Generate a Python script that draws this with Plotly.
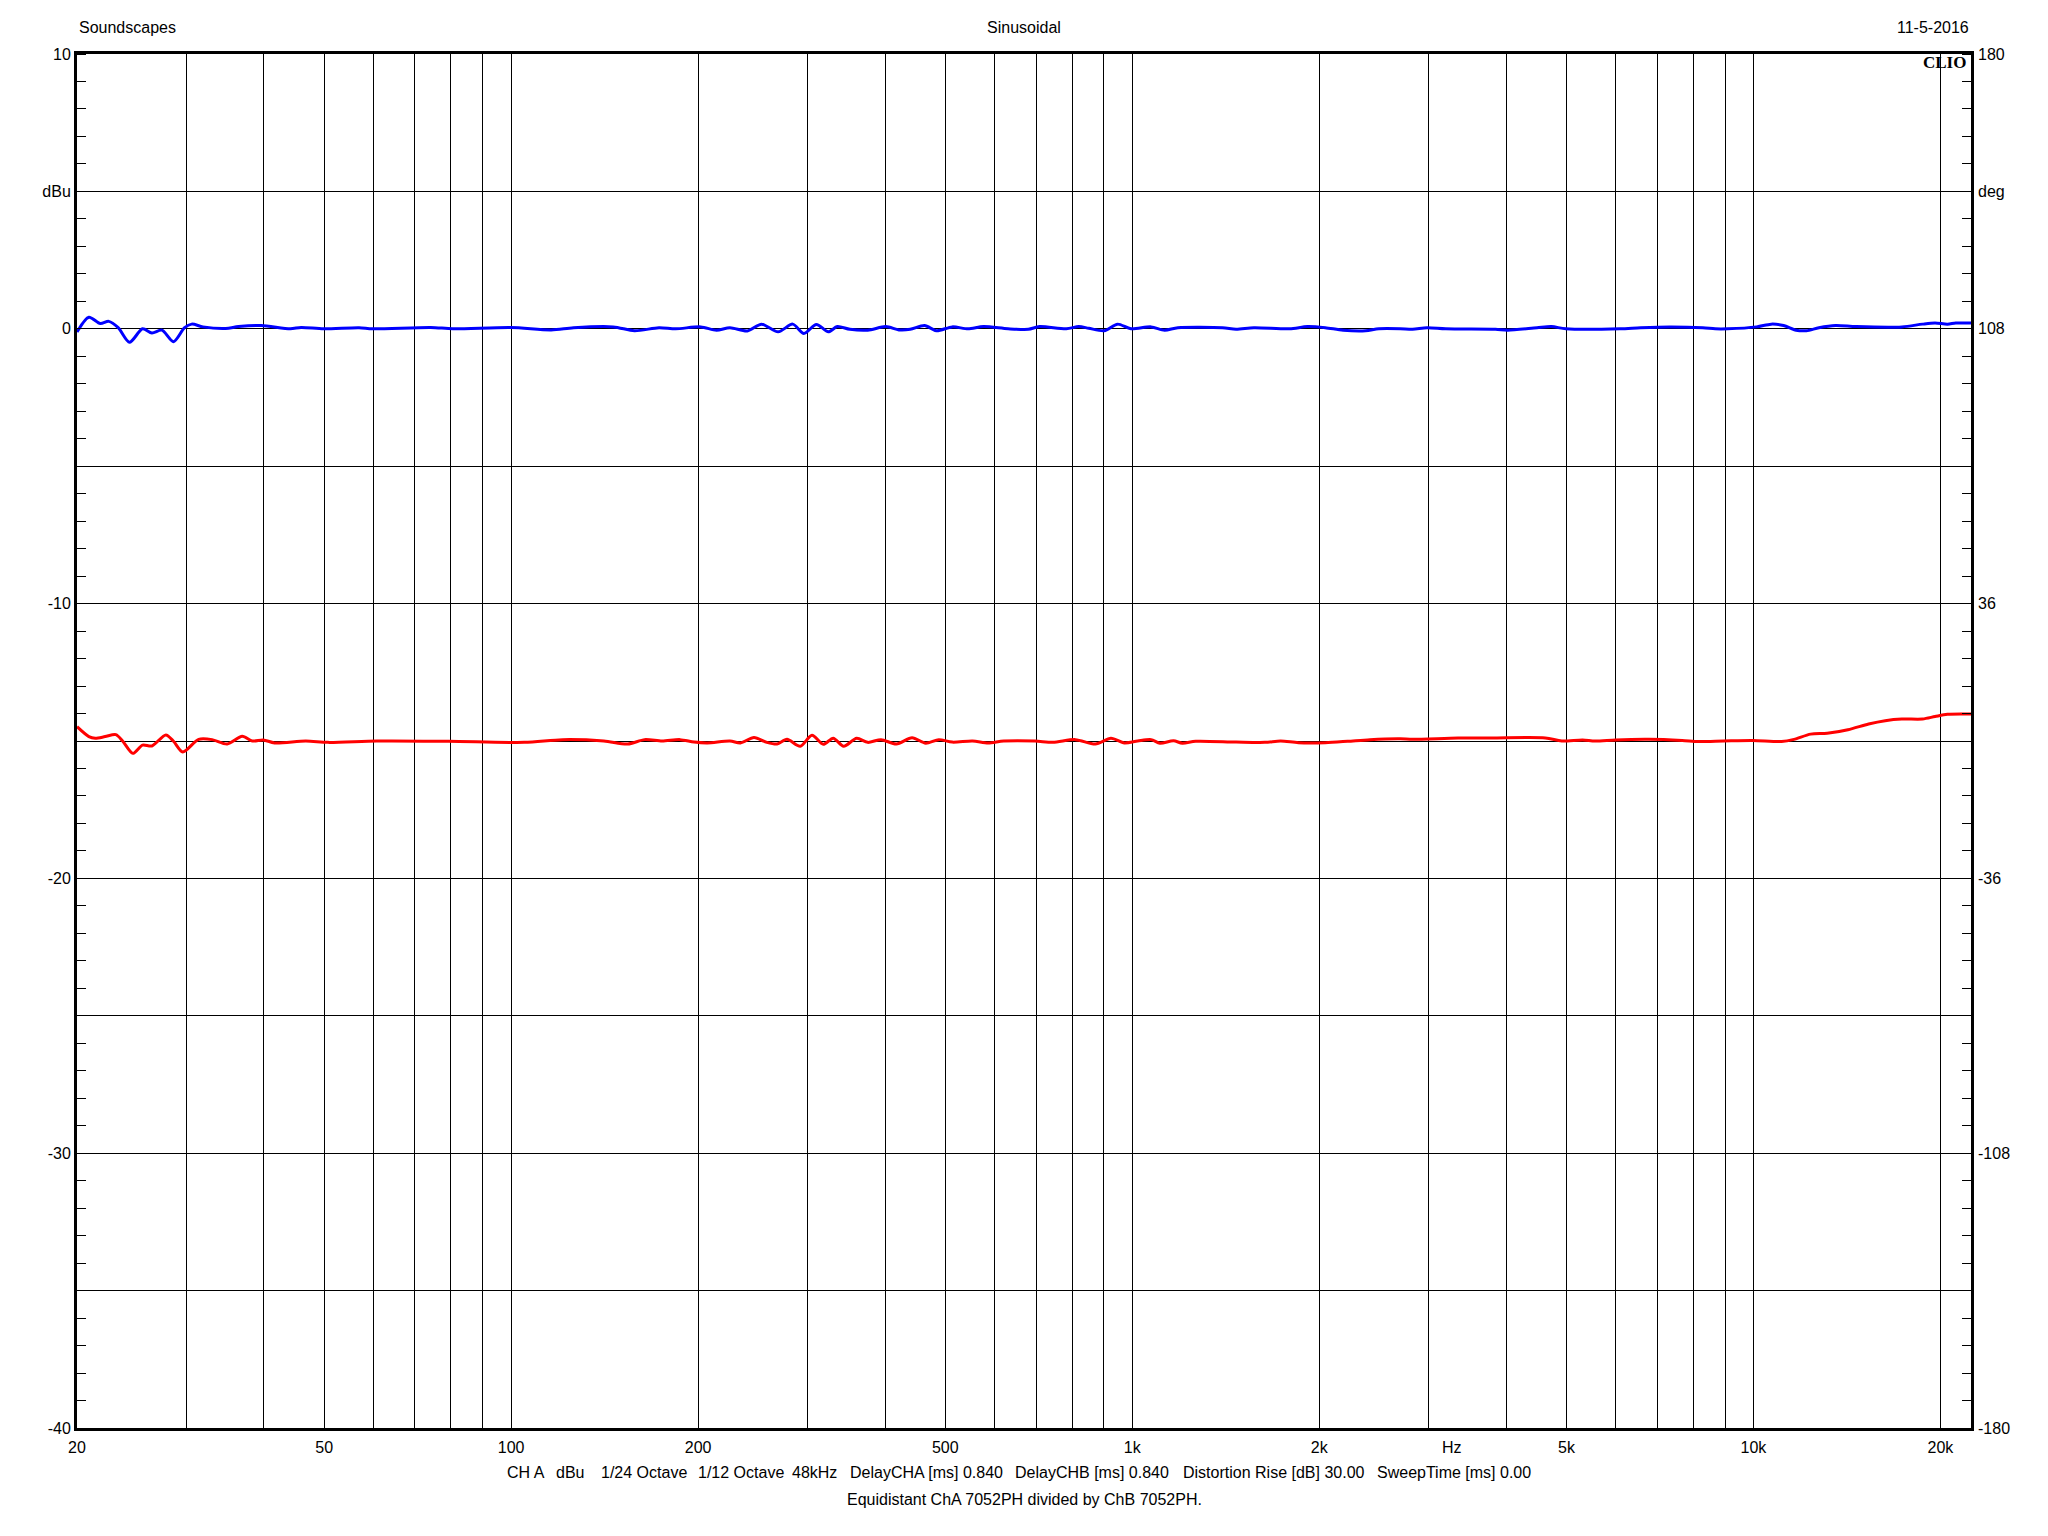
import math
import plotly.graph_objects as go

# ---------------- data ----------------
blue_freq = [20, 20.9, 21.8, 22.5, 23.3, 24.3, 25.5, 26.4, 27.4, 28.6, 29.8, 30.6, 31.9, 34.7, 36.4, 39.6,
             44.1, 45.9, 49.9, 56.9, 59.8, 74.2, 80.6, 99.9, 116, 126, 146, 158, 173, 184, 202, 214, 225,
             240, 253, 269, 284, 296, 310, 324, 335, 351, 375, 401, 421, 439, 463, 484, 513, 544, 576, 631,
             680, 709, 783, 820, 851, 901, 947, 995, 1072, 1127, 1184, 1397, 1469, 1569, 1791, 1914, 2045,
             2185, 2374, 2494, 2701, 2826, 2982, 3196, 3842, 4024, 4482, 4730, 4991, 6096, 6580, 7328, 8288,
             8679, 9090, 10118, 10680, 11183, 11714, 12170, 12747, 13556, 14638, 17336, 18716, 19604, 20526,
             21169, 22400]
blue_dbu = [-0.12, 0.42, 0.19, 0.27, 0.04, -0.49, 0.0, -0.15, -0.05, -0.47, 0.04, 0.17, 0.07, 0.01, 0.08,
            0.12, 0.0, 0.05, 0.0, 0.04, 0.0, 0.05, 0.0, 0.05, -0.04, 0.04, 0.07, -0.07, 0.04, 0.0, 0.07, -0.05,
            0.04, -0.08, 0.17, -0.11, 0.17, -0.17, 0.16, -0.11, 0.08, -0.02, -0.05, 0.08, -0.04, -0.02, 0.12,
            -0.07, 0.07, 0.0, 0.08, 0.0, -0.02, 0.08, 0.0, 0.08, 0.02, -0.07, 0.17, 0.0, 0.07, -0.05, 0.04,
            0.04, -0.02, 0.04, 0.0, 0.08, 0.04, -0.05, -0.07, 0.0, 0.0, -0.02, 0.04, 0.0, -0.02, -0.05, 0.04,
            0.08, 0.0, 0.0, 0.04, 0.07, 0.04, 0.0, 0.0, 0.07, 0.17, 0.12, -0.05, -0.07, 0.04, 0.12, 0.08, 0.07,
            0.17, 0.21, 0.17, 0.21, 0.21]

red_freq = [20, 20.9, 21.4, 22.2, 23.1, 23.7, 24.6, 25.5, 26.4, 27.8, 28.6, 29.6, 31.4, 33.0, 34.9, 36.9,
            38.3, 39.9, 41.6, 46.7, 50.7, 60.8, 79.3, 105, 121, 141, 154, 164, 175, 187, 197, 207, 225, 234,
            246, 258, 268, 278, 292, 305, 318, 330, 343, 360, 375, 394, 417, 442, 465, 488, 513, 553, 586, 621,
            697, 745, 810, 872, 924, 971, 1020, 1072, 1108, 1165, 1204, 1265, 1469, 1635, 1733, 1851, 2045,
            2221, 2413, 2701, 2826, 3346, 3784, 4623, 4914, 5308, 5558, 6002, 6788, 7676, 8162, 8950, 9970,
            11100, 11624, 12362, 13146, 14194, 15326, 16298, 17336, 18716, 19604, 20526, 22400]
red_dbu = [-14.48, -14.84, -14.9, -14.84, -14.77, -15.01, -15.45, -15.15, -15.18, -14.78, -15.01, -15.4,
           -14.94, -14.95, -15.11, -14.83, -15.0, -14.96, -15.07, -15.0, -15.05, -15.0, -15.01, -15.05, -14.95,
           -15.0, -15.11, -14.95, -15.0, -14.95, -15.04, -15.07, -15.0, -15.07, -14.87, -15.05, -15.11, -14.94,
           -15.19, -14.79, -15.12, -14.9, -15.19, -14.9, -15.05, -14.95, -15.11, -14.88, -15.08, -14.95, -15.04,
           -15.0, -15.07, -15.0, -15.0, -15.05, -14.95, -15.11, -14.9, -15.07, -15.0, -14.95, -15.08, -14.99,
           -15.08, -15.01, -15.04, -15.05, -15.0, -15.06, -15.06, -15.01, -14.95, -14.92, -14.94, -14.89,
           -14.89, -14.89, -15.0, -14.96, -15.0, -14.96, -14.94, -14.98, -15.02, -15.0, -14.98, -15.02, -14.94,
           -14.75, -14.72, -14.59, -14.38, -14.26, -14.2, -14.2, -14.11, -14.03, -14.02]

assert len(blue_freq) == len(blue_dbu)
assert len(red_freq) == len(red_dbu)

x_grid = [20, 30, 40, 50, 60, 70, 80, 90, 100, 200, 300, 400, 500, 600, 700, 800, 900,
          1000, 2000, 3000, 4000, 5000, 6000, 7000, 8000, 9000, 10000, 20000]
x_labels = {20: "20", 50: "50", 100: "100", 200: "200", 500: "500", 1000: "1k",
            2000: "2k", 5000: "5k", 10000: "10k", 20000: "20k"}
x_min, x_max = 20, 22400

y_vals = [10, 5, 0, -5, -10, -15, -20, -25, -30, -35, -40]
y_text = ["10", "dBu", "0", "", "-10", "", "-20", "", "-30", "", "-40"]
y2_vals = [180, 144, 108, 36, -36, -108, -180]
y2_text = ["180", "deg", "108", "36", "-36", "-108", "-180"]

header_left = "Soundscapes"
header_mid = "Sinusoidal"
header_right = "11-5-2016"
info_items = ["CH A", "dBu", "1/24 Octave", "1/12 Octave", "48kHz", "DelayCHA [ms] 0.840",
              "DelayCHB [ms] 0.840", "Distortion Rise [dB] 30.00", "SweepTime [ms] 0.00"]
footer = "Equidistant ChA 7052PH divided by ChB 7052PH."

# ---------------- layout helpers ----------------
W, H = 2048, 1536
L, R, T, B = 77, 1971, 54, 1428
FONT = "Liberation Sans, Arial, sans-serif"


def px(x):
    return (x - L) / (R - L)


def py(y):
    return (B - y) / (B - T)


fig = go.Figure()
fig.add_trace(go.Scatter(x=red_freq, y=red_dbu, mode="lines",
                         line=dict(color="#ff0000", width=3, shape="spline", smoothing=0.8),
                         hoverinfo="skip", showlegend=False))
fig.add_trace(go.Scatter(x=blue_freq, y=blue_dbu, mode="lines",
                         line=dict(color="#0000ff", width=3, shape="spline", smoothing=0.8),
                         hoverinfo="skip", showlegend=False))
fig.add_trace(go.Scatter(x=[], y=[], yaxis="y2", showlegend=False, hoverinfo="skip"))

ann = []
def add_text(text, x, y, xanchor, size=16, family=FONT, bold=False):
    ann.append(dict(text=("<b>%s</b>" % text) if bold else text, x=px(x), y=py(y),
                    xref="paper", yref="paper", xanchor=xanchor, yanchor="middle",
                    showarrow=False, font=dict(family=family, size=size, color="black")))

add_text(header_left, 77, 27, "left")
add_text(header_mid, 1024, 27, "center")
add_text(header_right, 1971, 27, "right")
add_text("CLIO", 1968, 63, "right", size=17, family="Liberation Serif, DejaVu Serif, serif", bold=True)
add_text("Hz", 1452, 1447, "center")

info_x = [505, 554, 599, 696, 790, 848, 1013, 1181, 1375]
for t, xx in zip(info_items, info_x):
    add_text(t, xx, 1473, "left")
add_text(footer, 1024, 1499, "center")

fig.update_layout(
    width=W, height=H,
    margin=dict(l=L, r=W - R, t=T, b=H - B, pad=0),
    paper_bgcolor="white", plot_bgcolor="white",
    showlegend=False,
    font=dict(family=FONT, size=16, color="black"),
    annotations=ann,
    xaxis=dict(type="log", range=[math.log10(x_min), math.log10(x_max)],
               tickmode="array", tickvals=x_grid,
               ticktext=[x_labels.get(v, "") for v in x_grid],
               showgrid=True, gridcolor="black", gridwidth=1,
               ticks="", ticklabelstandoff=3, showline=True, linecolor="black", linewidth=3, mirror=True,
               zeroline=False, tickfont=dict(family=FONT, size=16, color="black")),
    yaxis=dict(range=[-40, 10], tickmode="array", tickvals=y_vals, ticktext=y_text,
               showgrid=True, gridcolor="black", gridwidth=1, ticks="", ticklabelstandoff=0,
               showline=True, linecolor="black", linewidth=3, mirror=True, zeroline=False,
               minor=dict(ticks="inside", tick0=0, dtick=1, ticklen=9, tickwidth=1.3,
                          tickcolor="black", showgrid=False),
               tickfont=dict(family=FONT, size=16, color="black")),
    yaxis2=dict(overlaying="y", side="right", range=[-180, 180], tickmode="array",
                tickvals=y2_vals, ticktext=y2_text, showgrid=False, zeroline=False,
                showline=False, ticks="", ticklabelstandoff=6,
                minor=dict(ticks="inside", tick0=0, dtick=7.2, ticklen=9, tickwidth=1.3,
                           tickcolor="black", showgrid=False),
                tickfont=dict(family=FONT, size=16, color="black")),
)

fig.write_html("out.html", config={"displayModeBar": False},
               post_script="document.body.style.margin='0';document.body.style.overflow='hidden';")
